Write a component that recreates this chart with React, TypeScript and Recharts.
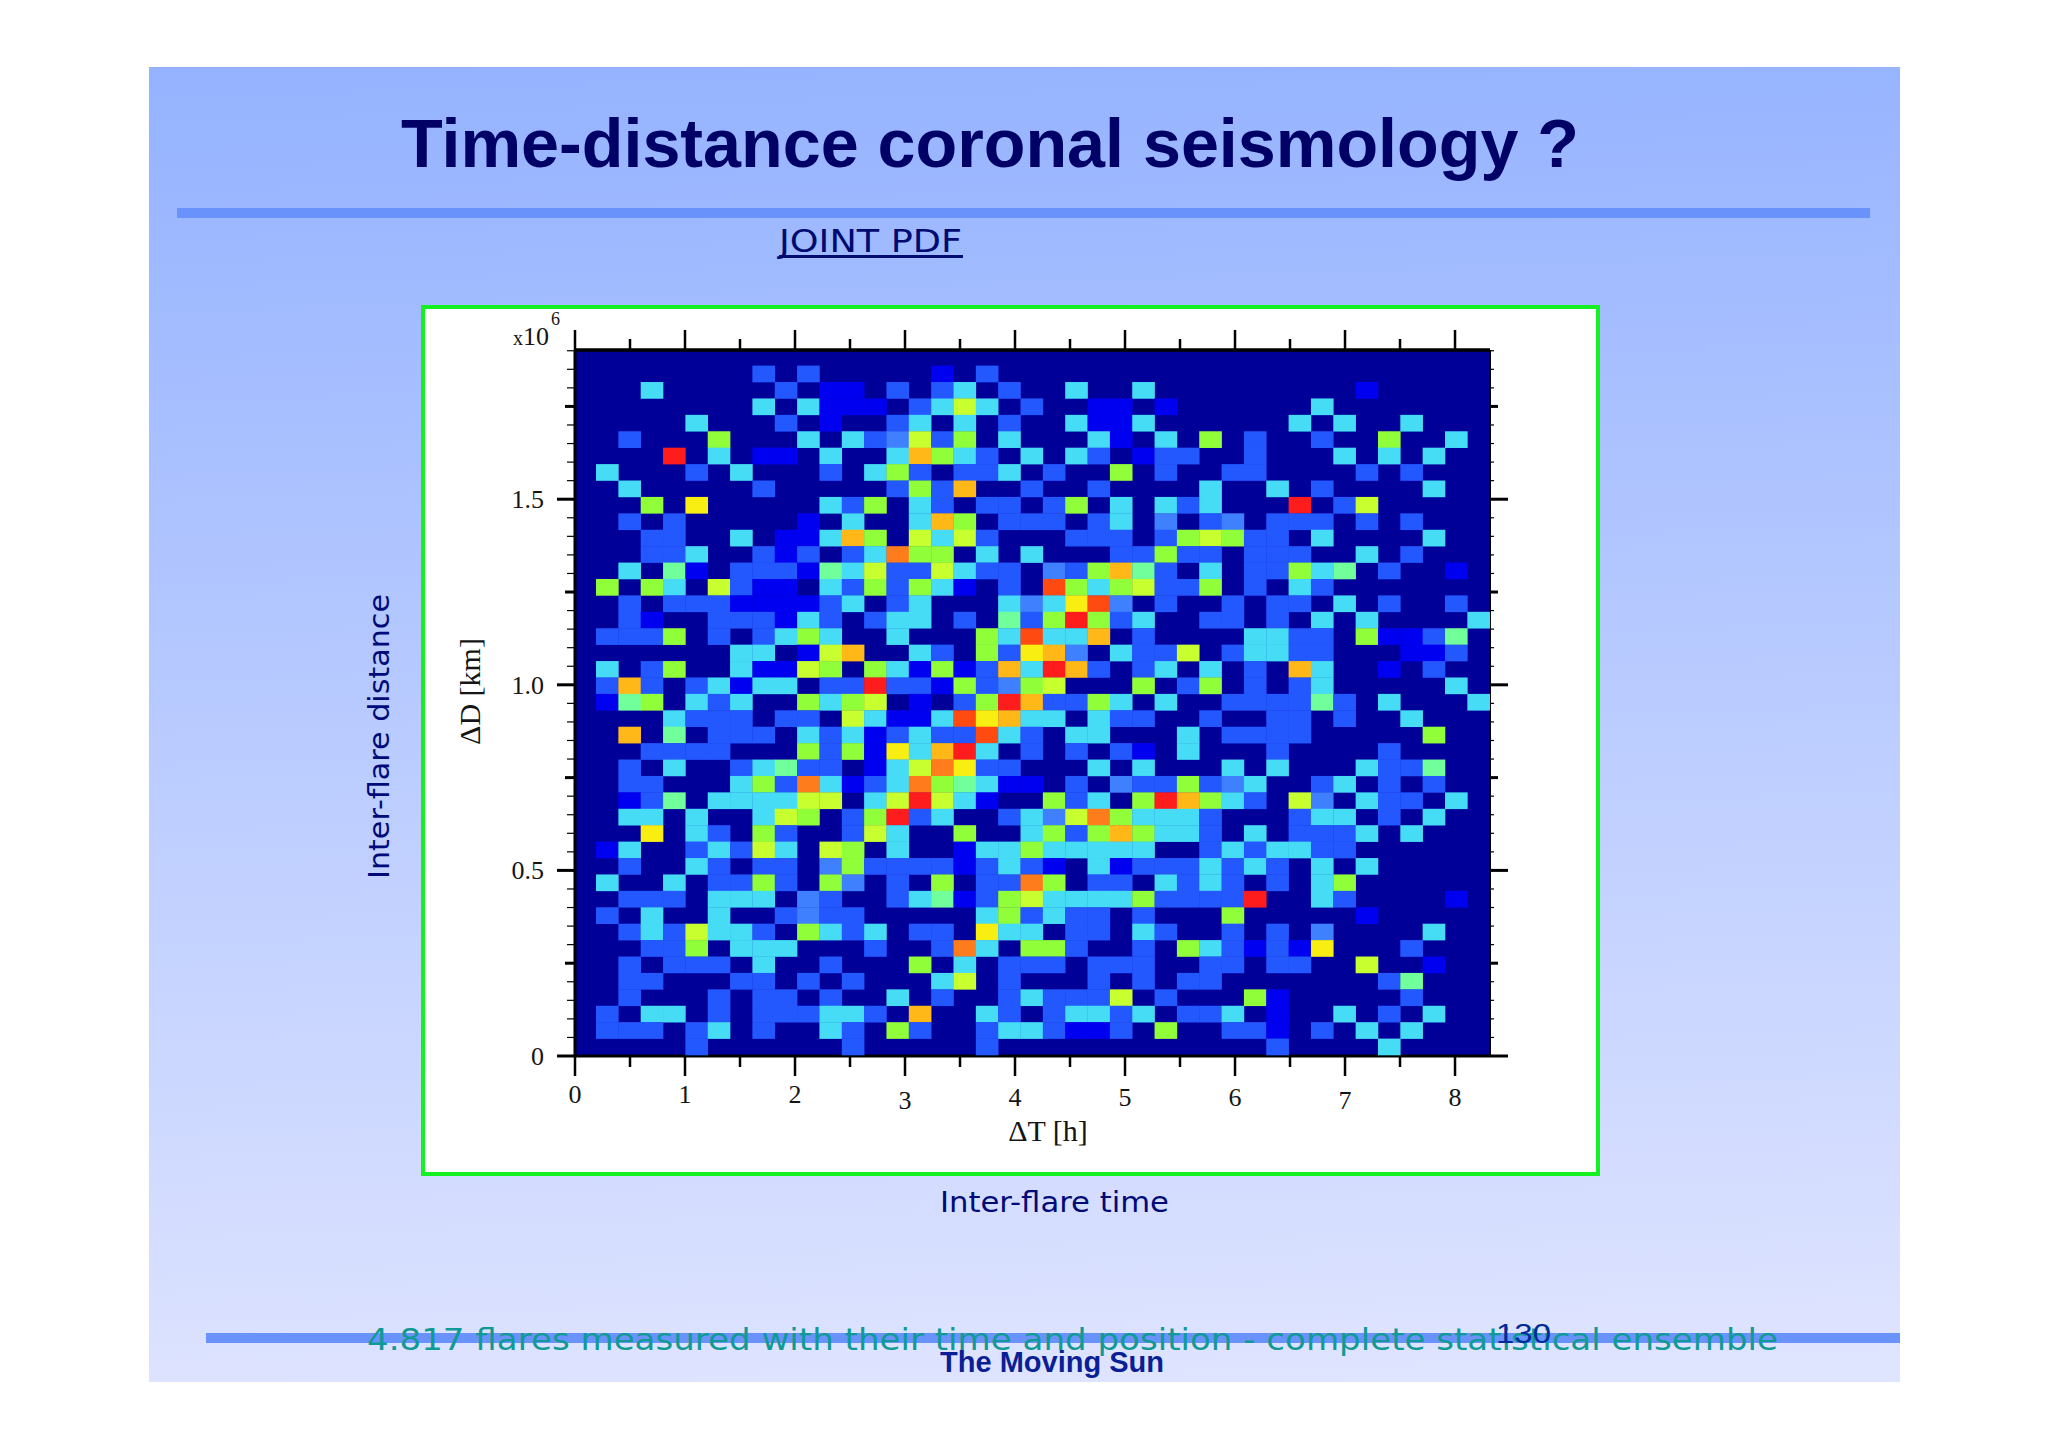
import React from "react";
import { ScatterChart, Scatter, XAxis, YAxis, CartesianGrid, ReferenceLine } from "recharts";

// One string per histogram row, top row first; one digit per time bin (colour level 0..12, base 13).
const rowsTop: string[] = [
  "000000000000000000000" + "00000000000000000000",
  "000000002020000010200" + "00000000000000000000",
  "000400000201102024020" + "04004000000000100000",
  "000000004041110247402" + "00110100000040000000",
  "000004000201002404020" + "04114000000404004000",
  "002000600040423726040" + "00410406020020060040",
];
const rowsUpper: string[] = [
  "0000c0401104004964204" + "04201220020004040400",
  "040002040002046202240" + "20060200220000202000",
  "004000002000002629002" + "00200004004020000400",
  "000608000004260420220" + "26040424000c02700000",
  "002020000010400496022" + "20240302302220202000",
  "000220040114960747200" + "02220267622040000400",
  "00022400212024a660404" + "00022622022200402000",
  "004051022215472274220" + "32695204022645020010",
];
const rowsMiddle: string[] = [
  "060640721104262641020" + "b6467226020420000000",
  "002022211112402400043" + "48b30200202204020020",
  "002100222142024402052" + "6c624002202040400004",
  "02226020246400400064b" + "44902000044220611250",
  "000000044017900420628" + "93042270244220001120",
  "040260041176064161294" + "c9202404020940010200",
  "0292024144022c2216236" + "70006026020240000040",
  "0156042400646701026c9" + "22640400222252040004",
];
const rowsLower: string[] = [
  "00004222022074114b894" + "40422002002202004000",
  "009050222042412422b42" + "04400040222200000600",
  "00022220006261849c402" + "02021040002000020000",
  "0020400245220147a8220" + "00404000404000422500",
  "0022000462a4124a65411" + "02032262340024020200",
  "001250444477047c74100" + "62406c96420730422040",
  "00440400476026c240024" + "37a64442000244020400",
  "000804206200274006004" + "62696442040222404000",
  "014002427407604001446" + "44444002424422000000",
  "002004202203622221242" + "10412224242040400000",
];
const rowsBottom: string[] = [
  "04004022620630206022a" + "60220424202046000000",
  "002220444032002451267" + "444462222c0042000010",
  "020400400232200000462" + "42202000600000100000",
  "002427442064240220844" + "02204200202030000400",
  "00022604440002002a406" + "62002064212180002000",
  "002022204002000604022" + "20222002202200700100",
  "002200022020200047020" + "00202022000000025000",
  "002000202202004020024" + "22270200061000002000",
  "020440202224420900420" + "24424022401004020400",
  "022202402004206200244" + "21120600221020404000",
  "000002000000200000200" + "00000000002000040000",
];

const palette = [
  "#000099", "#0000f0", "#2458ff", "#3f80ff", "#47dcf6", "#70ff9a", "#90ff3a",
  "#c8ff2e", "#f8ee12", "#ffb818", "#ff7c1c", "#ff4a12", "#ff1c1c",
];

const xTicks = [0, 0.5, 1, 1.5, 2, 2.5, 3, 3.5, 4, 4.5, 5, 5.5, 6, 6.5, 7, 7.5, 8];
const yTicks = Array.from({ length: 39 }, (_, i) => (i * 5) / 100);
const xDomain: [number, number] = [0, 8.318];
const yDomain: [number, number] = [0, 1.902];
const binT = 0.2031;
const binD = 0.04422;
const originT = -0.012;
const originD = 0.0027;

const allRows = [...rowsTop, ...rowsUpper, ...rowsMiddle, ...rowsLower, ...rowsBottom];
const cells: { t: number; d: number; level: number }[] = [];
allRows.forEach((row, k) => {
  row.split("").forEach((ch, i) => {
    const level = parseInt(ch, 13);
    if (level > 0) {
      cells.push({
        t: originT + (i + 0.5) * binT,
        d: originD + (allRows.length - 1 - k + 0.5) * binD,
        level,
      });
    }
  });
});

const PLOT = { left: 575, top: 350, right: 1490, bottom: 1056 };
const cellW = ((PLOT.right - PLOT.left) / (xDomain[1] - xDomain[0])) * binT;
const cellH = ((PLOT.bottom - PLOT.top) / (yDomain[1] - yDomain[0])) * binD;
const unitsPerPx = (yDomain[1] - yDomain[0]) / (PLOT.bottom - PLOT.top);

const serif = "'Liberation Serif', serif";
const sans = "'Liberation Sans', sans-serif";
const deja = "'DejaVu Sans', sans-serif";
const INK = "#151515";

const CellShape = (p: any) => (
  <rect
    x={p.cx - cellW / 2}
    y={p.cy - cellH / 2}
    width={cellW + 0.3}
    height={cellH + 0.3}
    fill={palette[p.payload.level]}
  />
);

const isWhole = (v: number) => Math.abs(v - Math.round(v)) < 1e-6;
const figureDrop = (v: number) => (v === 3 || v === 7 ? 6 : v >= 4 ? 3 : 0);

const BottomTick = (p: any) => {
  const v = p.payload.value;
  const big = isWhole(v);
  return (
    <g>
      <line x1={p.x} x2={p.x} y1={p.y} y2={p.y + (big ? 20 : 11)} stroke="#000" strokeWidth={2.5} />
      {big && (
        <text x={p.x} y={p.y + 47 + figureDrop(v)} textAnchor="middle" fontFamily={serif} fontSize={26} fill={INK}>
          {v}
        </text>
      )}
    </g>
  );
};
const tickKind = (v: number) => {
  const h = Math.round(v * 100);
  return h % 50 === 0 ? 2 : h % 25 === 0 ? 1 : 0;
};
const LeftTick = (p: any) => {
  const v = p.payload.value;
  const kind = tickKind(v);
  return (
    <g>
      <line
        x1={p.x}
        x2={p.x - [8, 10, 18][kind]}
        y1={p.y}
        y2={p.y}
        stroke="#000"
        strokeWidth={kind === 0 ? 1.2 : 3}
      />
      {kind === 2 && (
        <text x={p.x - 31} y={p.y + 9} textAnchor="end" fontFamily={serif} fontSize={26} fill={INK}>
          {v === 0 ? "0" : v.toFixed(1)}
        </text>
      )}
    </g>
  );
};
const RightTick = (p: any) => {
  const kind = tickKind(p.payload.value);
  return (
    <line
      x1={p.x}
      x2={p.x + [4, 8, 18][kind]}
      y1={p.y}
      y2={p.y}
      stroke="#000"
      strokeWidth={kind === 0 ? 1.2 : 3}
    />
  );
};

const box = (left: number, top: number, width: number, height: number, extra: React.CSSProperties = {}): React.CSSProperties => ({
  position: "absolute",
  left,
  top,
  width,
  height,
  ...extra,
});

export default function App() {
  return (
    <div style={box(0, 0, 2048, 1448, { background: "#fff", overflow: "hidden" })}>
      <div style={box(149, 67, 1751, 1315, { background: "linear-gradient(178deg, #94b2ff 0%, #e0e5ff 100%)" })} />
      <div style={box(177, 208, 1693, 10, { background: "#6a92fb" })} />
      <div style={box(206, 1333, 1694, 10, { background: "#6a92fb" })} />
      <div
        style={box(421, 305, 1179, 871, {
          background: "#fff",
          border: "4px solid #14f020",
          boxSizing: "border-box",
        })}
      />
      <div style={box(0, 0, 2048, 1448)}>
        <ScatterChart
          width={2048}
          height={1448}
          margin={{
            left: PLOT.left - 1,
            top: PLOT.top - 1,
            right: 2048 - PLOT.right - 1,
            bottom: 1448 - PLOT.bottom - 1,
          }}
        >
          <CartesianGrid horizontal={false} vertical={false} fill={palette[0]} fillOpacity={1} xAxisId="b" yAxisId="l" />
          <XAxis
            xAxisId="b"
            type="number"
            dataKey="t"
            domain={xDomain}
            allowDataOverflow
            ticks={xTicks}
            interval={0}
            height={1}
            tickSize={0}
            tickMargin={0}
            tick={BottomTick}
            tickLine={false}
            axisLine={{ stroke: "#000", strokeWidth: 3 }}
          />
          <XAxis
            xAxisId="t"
            orientation="top"
            type="number"
            domain={xDomain}
            allowDataOverflow
            ticks={xTicks}
            interval={0}
            height={1}
            tickSize={0}
            tick={false}
            tickLine={false}
            axisLine={{ stroke: "#000", strokeWidth: 3.5 }}
          />
          <YAxis
            yAxisId="l"
            type="number"
            dataKey="d"
            domain={yDomain}
            allowDataOverflow
            ticks={yTicks}
            interval={0}
            width={1}
            tickSize={0}
            tickMargin={0}
            tick={LeftTick}
            tickLine={false}
            axisLine={{ stroke: "#000", strokeWidth: 3 }}
          />
          <YAxis
            yAxisId="r"
            orientation="right"
            type="number"
            domain={yDomain}
            allowDataOverflow
            ticks={yTicks}
            interval={0}
            width={1}
            tickSize={0}
            tickMargin={0}
            tick={RightTick}
            tickLine={false}
            axisLine={{ stroke: "#000", strokeWidth: 2 }}
          />
          <Scatter xAxisId="b" yAxisId="l" data={cells} shape={CellShape} isAnimationActive={false} />
          {xTicks.map((v) => (
            <ReferenceLine
              key={v}
              xAxisId="b"
              yAxisId="l"
              ifOverflow="visible"
              stroke="#000"
              strokeWidth={2.5}
              segment={[
                { x: v, y: yDomain[1] },
                { x: v, y: yDomain[1] + (isWhole(v) ? 20 : 11) * unitsPerPx },
              ]}
            />
          ))}
        </ScatterChart>
      </div>
      <svg width={2048} height={1448} style={box(0, 0, 2048, 1448, { pointerEvents: "none" })}>
        <text x={401} y={167} fontFamily={sans} fontWeight={700} fontSize={68} fill="#000066" textLength={1178} lengthAdjust="spacingAndGlyphs">
          Time-distance coronal seismology ?
        </text>
        <text x={779} y={252} fontFamily={deja} fontSize={32} fill="#000a70" textLength={183} lengthAdjust="spacingAndGlyphs">
          JOINT PDF
        </text>
        <rect x={779} y={255} width={184} height={3} fill="#000a70" />
        <text x={513} y={345} fontFamily={serif} fontSize={26} fill={INK}>
          <tspan fontSize={20}>x</tspan>10
        </text>
        <text x={551} y={325} fontFamily={serif} fontSize={18} fill={INK}>
          6
        </text>
        <text
          x={0}
          y={0}
          transform="translate(480 691.5) rotate(-90)"
          textAnchor="middle"
          fontFamily={serif}
          fontSize={30}
          fill={INK}
        >
          ΔD [km]
        </text>
        <text x={1048} y={1141} textAnchor="middle" fontFamily={serif} fontSize={30} fill={INK}>
          ΔT [h]
        </text>
        <text
          x={0}
          y={0}
          transform="translate(389 879) rotate(-90)"
          fontFamily={deja}
          fontSize={29}
          fill="#000a78"
          textLength={285}
          lengthAdjust="spacingAndGlyphs"
        >
          Inter-flare distance
        </text>
        <text x={940} y={1212} fontFamily={deja} fontSize={29} fill="#000a78" textLength={229} lengthAdjust="spacingAndGlyphs">
          Inter-flare time
        </text>
        <text x={367} y={1350} fontFamily={deja} fontSize={30} fill="#109a96" textLength={1411} lengthAdjust="spacingAndGlyphs">
          4.817 flares measured with their time and position - complete statistical ensemble
        </text>
        <text x={1496} y={1343} fontFamily={sans} fontSize={28} fill="#002a99" textLength={55} lengthAdjust="spacingAndGlyphs">
          130
        </text>
        <text x={940} y={1372} fontFamily={sans} fontWeight={700} fontSize={29} fill="#0a1f96" textLength={224} lengthAdjust="spacingAndGlyphs">
          The Moving Sun
        </text>
      </svg>
    </div>
  );
}
